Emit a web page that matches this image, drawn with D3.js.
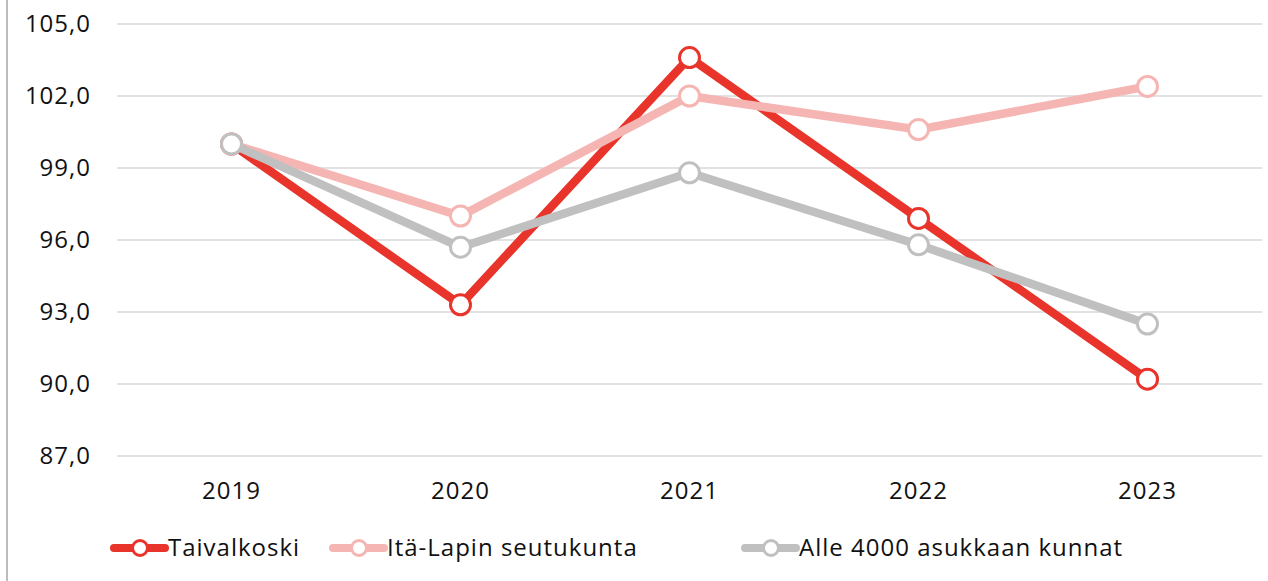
<!DOCTYPE html>
<html lang="fi">
<head>
<meta charset="UTF-8">
<title>Indeksi</title>
<script src="https://cdn.jsdelivr.net/npm/d3@7"></script>
<style>
  body { margin: 0; background: #fff; }
  text { font-family: "Open Sans", "Noto Sans", sans-serif; fill: #111; letter-spacing: 1px; }
</style>
</head>
<body>
<script>
var years = ["2019", "2020", "2021", "2022", "2023"];
var taivalkoski = [100.0, 93.3, 103.6, 96.9, 90.2];
var itaLappi = [100.0, 97.0, 102.0, 100.6, 102.4];
var alle4000 = [100.0, 95.7, 98.8, 95.8, 92.5];
var yTicks = [87, 90, 93, 96, 99, 102, 105];
var seriesNames = ["Taivalkoski", "Itä-Lapin seutukunta", "Alle 4000 asukkaan kunnat"];
var seriesColors = ["#e8342a", "#f5b5b2", "#c0c0c0"];

var width = 1268, height = 581;

var svg = d3.select("body").append("svg")
    .attr("width", width)
    .attr("height", height);

// chart frame line on the left
svg.append("line")
    .attr("x1", 7).attr("x2", 7)
    .attr("y1", 0).attr("y2", height)
    .attr("stroke", "#a6a6a6").attr("stroke-width", 1.5);

var x = d3.scaleBand().domain(years).range([117, 1262]).padding(0);
var y = d3.scaleLinear().domain([87, 105]).range([456, 24]);
var cx = d => x(d) + x.bandwidth() / 2;

// grid
svg.append("g")
    .selectAll("line")
    .data(yTicks)
    .enter().append("line")
    .attr("x1", 117).attr("x2", 1262)
    .attr("y1", d => y(d)).attr("y2", d => y(d))
    .attr("stroke", "#d9d9d9").attr("stroke-width", 1.5);

// y labels
svg.append("g")
    .selectAll("text")
    .data(yTicks)
    .enter().append("text")
    .attr("x", 91)
    .attr("y", d => y(d) + 8)
    .attr("text-anchor", "end")
    .style("font-size", "24px")
    .text(d => d3.format(".1f")(d).replace(".", ","));

// x labels
svg.append("g")
    .selectAll("text")
    .data(years)
    .enter().append("text")
    .attr("x", d => cx(d))
    .attr("y", 499)
    .attr("text-anchor", "middle")
    .style("font-size", "24px")
    .text(d => d);

var series = [taivalkoski, itaLappi, alle4000];

var line = d3.line()
    .x((d, i) => cx(years[i]))
    .y(d => y(d));

series.forEach(function (vals, k) {
    var g = svg.append("g");
    g.append("path")
        .attr("d", line(vals))
        .attr("fill", "none")
        .attr("stroke", seriesColors[k])
        .attr("stroke-width", 8.5)
        .attr("stroke-linejoin", "round");
    g.selectAll("circle")
        .data(vals)
        .enter().append("circle")
        .attr("cx", (d, i) => cx(years[i]))
        .attr("cy", d => y(d))
        .attr("r", 10)
        .attr("fill", "#fff")
        .attr("stroke", seriesColors[k])
        .attr("stroke-width", 3);
});

// legend
var legendX = [114, 333, 745];
var leg = svg.append("g")
    .selectAll("g")
    .data(seriesNames)
    .enter().append("g")
    .attr("transform", (d, i) => "translate(" + legendX[i] + ",548)");

leg.append("line")
    .attr("x1", 0).attr("x2", 51)
    .attr("y1", 0).attr("y2", 0)
    .attr("stroke", (d, i) => seriesColors[i])
    .attr("stroke-width", 8)
    .attr("stroke-linecap", "round");
leg.append("circle")
    .attr("cx", 26).attr("cy", 0).attr("r", 7.5)
    .attr("fill", "#fff")
    .attr("stroke", (d, i) => seriesColors[i])
    .attr("stroke-width", 3);
leg.append("text")
    .attr("x", 54)
    .attr("y", 8)
    .style("font-size", "24px")
    .text(d => d);
</script>
</body>
</html>
